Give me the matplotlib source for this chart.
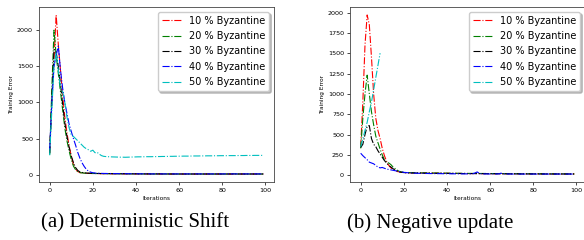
import numpy as np
import matplotlib.pyplot as plt

iterations = np.arange(100)
labels = ['10 % Byzantine', '20 % Byzantine', '30 % Byzantine', '40 % Byzantine', '50 % Byzantine']
colours = ['r', 'g', 'k', 'b', 'c']

# (a) Deterministic Shift
shift_10 = [300, 1000, 1600, 2210, 1800, 1450, 1100, 800, 580, 400, 260, 140, 80, 45, 30, 25, 22, 20, 19, 18,
            17, 17, 16, 16, 15, 15, 15, 14, 14, 14, 14, 13, 13, 13, 13, 13, 12, 12, 12, 12,
            12, 12, 12, 11, 11, 11, 11, 11, 11, 11, 11, 11, 11, 10, 10, 10, 10, 10, 10, 10,
            10, 10, 10, 10, 10, 10, 10, 10, 10, 10, 10, 10, 10, 10, 10, 10, 10, 10, 10, 10,
            10, 10, 10, 10, 10, 10, 10, 10, 10, 10, 10, 10, 10, 10, 10, 10, 10, 10, 10, 10]
shift_20 = [280, 1200, 2000, 1650, 1400, 1150, 900, 650, 470, 330, 210, 120, 70, 42, 30, 26, 23, 21, 20, 19,
            18, 17, 17, 16, 16, 15, 15, 15, 14, 14, 14, 14, 13, 13, 13, 13, 13, 12, 12, 12,
            12, 12, 12, 12, 11, 11, 11, 11, 11, 11, 11, 11, 11, 11, 11, 11, 11, 11, 10, 10,
            10, 10, 10, 10, 10, 10, 10, 10, 10, 10, 10, 10, 10, 10, 10, 10, 10, 10, 10, 10,
            10, 10, 10, 10, 12, 14, 12, 10, 10, 10, 10, 10, 10, 10, 10, 10, 10, 10, 10, 10]
shift_30 = [300, 1050, 1730, 1700, 1500, 1250, 980, 720, 530, 380, 260, 170, 100, 60, 40, 32, 27, 24, 22, 21,
            20, 19, 18, 18, 17, 17, 16, 16, 16, 15, 15, 15, 15, 14, 14, 14, 14, 14, 13, 13,
            13, 13, 13, 13, 12, 12, 12, 12, 12, 12, 12, 12, 12, 12, 11, 11, 11, 11, 11, 11,
            11, 11, 11, 11, 11, 11, 11, 11, 11, 11, 11, 11, 11, 11, 11, 11, 11, 11, 11, 11,
            11, 11, 11, 11, 11, 11, 11, 11, 11, 11, 11, 11, 11, 11, 11, 11, 11, 11, 11, 11]
shift_40 = [350, 1000, 1500, 1650, 1780, 1450, 1200, 1000, 850, 700, 600, 500, 410, 310, 230, 165, 115, 75, 50, 36,
            28, 24, 22, 20, 19, 18, 18, 17, 17, 16, 16, 16, 15, 15, 15, 15, 14, 14, 14, 14,
            14, 13, 13, 13, 13, 13, 13, 12, 12, 12, 12, 12, 12, 12, 12, 12, 12, 12, 12, 12,
            12, 12, 12, 12, 12, 12, 12, 12, 12, 12, 12, 12, 12, 12, 12, 12, 12, 12, 12, 12,
            12, 12, 12, 12, 12, 12, 12, 12, 12, 12, 12, 12, 12, 12, 12, 12, 12, 12, 12, 12]
shift_50 = [270, 900, 1500, 1690, 1450, 1200, 1150, 1000, 800, 650, 550, 530, 500, 470, 440, 410, 380, 360, 345, 325,
            340, 305, 310, 285, 265, 255, 252, 250, 248, 247, 246, 245, 244, 243, 243, 242, 243, 244, 245, 246,
            247, 248, 248, 249, 249, 250, 250, 250, 251, 251, 252, 252, 253, 253, 254, 254, 255, 255, 256, 256,
            257, 257, 258, 258, 258, 259, 259, 260, 260, 260, 261, 261, 261, 262, 262, 262, 263, 263, 263, 264,
            264, 264, 264, 265, 265, 265, 265, 266, 266, 266, 266, 267, 267, 267, 267, 268, 268, 268, 268, 268]

# (b) Negative update
neg_10 = [350, 900, 1600, 1970, 1850, 1450, 1000, 700, 550, 450, 330, 240, 170, 120, 90, 70, 55, 45, 40, 35,
          32, 30, 29, 28, 28, 27, 27, 26, 26, 26, 25, 25, 25, 24, 24, 24, 24, 23, 23, 23,
          23, 22, 22, 22, 22, 21, 21, 21, 21, 21, 20, 20, 20, 20, 20, 20, 19, 19, 19, 19,
          19, 19, 18, 18, 18, 18, 18, 18, 18, 17, 17, 17, 17, 17, 17, 17, 17, 16, 16, 16,
          16, 16, 16, 16, 16, 16, 16, 15, 15, 15, 15, 15, 15, 15, 15, 15, 15, 15, 15, 15]
neg_20 = [330, 700, 1000, 1230, 1000, 780, 620, 480, 400, 320, 250, 190, 160, 150, 130, 100, 80, 60, 45, 38,
          35, 33, 32, 31, 30, 30, 29, 29, 28, 28, 28, 27, 27, 27, 26, 26, 26, 25, 25, 25,
          25, 24, 24, 24, 24, 23, 23, 23, 23, 22, 22, 22, 22, 22, 21, 21, 21, 21, 21, 20,
          20, 20, 20, 20, 20, 19, 19, 19, 19, 19, 19, 18, 18, 18, 18, 18, 18, 18, 17, 17,
          17, 17, 17, 17, 17, 17, 16, 16, 16, 16, 16, 16, 16, 16, 16, 15, 15, 15, 15, 15]
neg_30 = [340, 380, 500, 600, 610, 450, 380, 350, 300, 260, 220, 180, 150, 120, 100, 80, 60, 50, 40, 35,
          32, 30, 29, 28, 27, 27, 26, 26, 25, 25, 25, 24, 24, 24, 23, 23, 23, 23, 22, 22,
          22, 22, 21, 21, 21, 21, 21, 20, 20, 20, 20, 20, 20, 19, 19, 19, 19, 19, 19, 18,
          18, 18, 18, 18, 18, 18, 17, 17, 17, 17, 17, 17, 17, 17, 16, 16, 16, 16, 16, 16,
          16, 16, 16, 16, 15, 15, 15, 15, 15, 15, 15, 15, 15, 15, 15, 15, 15, 15, 15, 15]
neg_40 = [270, 240, 215, 190, 160, 150, 140, 120, 100, 90, 95, 85, 75, 70, 65, 60, 55, 50, 45, 40,
          35, 32, 30, 28, 26, 25, 24, 23, 22, 22, 21, 21, 20, 20, 20, 19, 19, 19, 18, 18,
          18, 18, 17, 17, 17, 17, 17, 16, 16, 16, 16, 16, 18, 28, 40, 22, 16, 15, 15, 15,
          15, 15, 15, 15, 15, 25, 15, 15, 15, 14, 14, 14, 14, 14, 14, 14, 14, 14, 14, 14,
          14, 14, 14, 14, 14, 14, 14, 14, 14, 14, 14, 14, 14, 14, 14, 14, 14, 14, 14, 14]
neg_50 = [350, 450, 550, 650, 780, 900, 1050, 1200, 1350, 1500]

shift_series = [shift_10, shift_20, shift_30, shift_40, shift_50]
neg_series = [neg_10, neg_20, neg_30, neg_40, neg_50]


def draw_panel(ax, series):
    for vals, col, lab in zip(series, colours, labels):
        ax.plot(iterations[:len(vals)], vals, linestyle='-.', color=col, linewidth=0.8, label=lab)
    ax.set_xlabel('Iterations', fontsize=4.2, labelpad=2)
    ax.set_ylabel('Training Error', fontsize=4.2, labelpad=2)
    ax.set_xticks([0, 20, 40, 60, 80, 100])
    ax.tick_params(labelsize=4.6, length=2.5, width=0.5, pad=1.8)
    for sp in ax.spines.values():
        sp.set_linewidth(0.6)
        sp.set_color('#444444')
    ax.legend(loc='upper right', fontsize=7.0, labelspacing=0.55, fancybox=True,
              shadow={'ox': 1.5, 'oy': -1.5, 'color': '#999999', 'alpha': 0.6})


fig = plt.figure(figsize=(5.84, 2.4), dpi=100)
ax1 = fig.add_axes([39 / 584, 58 / 240, 235 / 584, 175 / 240])
ax2 = fig.add_axes([350 / 584, 58 / 240, 235 / 584, 175 / 240])

draw_panel(ax1, shift_series)
draw_panel(ax2, neg_series)

fig.text(135 / 584, 0.07, '(a) Deterministic Shift', family='Liberation Serif', fontsize=15,
         ha='center', va='center')
fig.text(430 / 584, 0.07, '(b) Negative update', family='Liberation Serif', fontsize=15,
         ha='center', va='center')

plt.savefig('out.png', dpi=100)
